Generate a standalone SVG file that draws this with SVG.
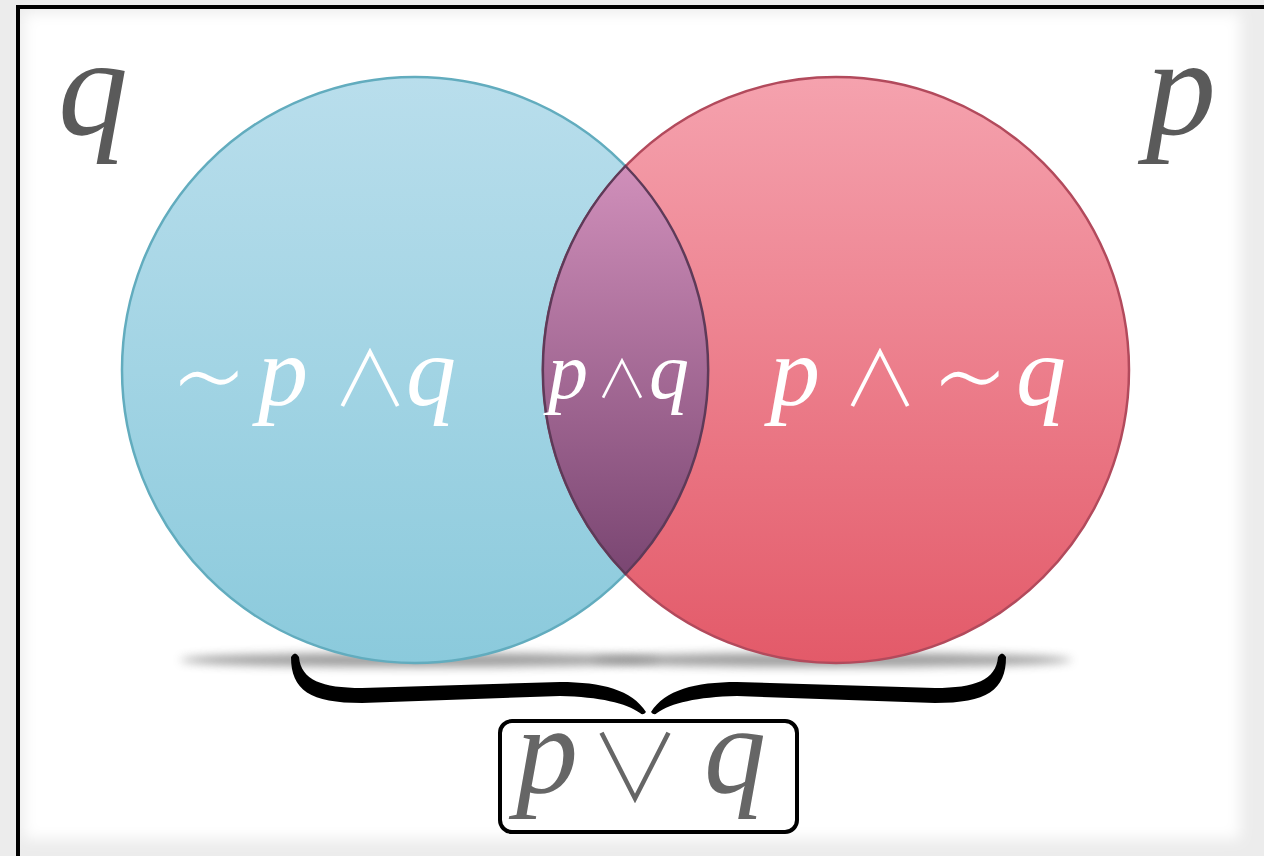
<svg xmlns="http://www.w3.org/2000/svg" width="1264" height="856" viewBox="0 0 1264 856">
<style>
.lbl{font-family:"Liberation Serif","DejaVu Serif",serif;font-style:italic}
.sym{font-family:"Noto Sans CJK JP","DejaVu Sans",sans-serif;font-style:normal;font-weight:300;text-anchor:middle}
.white{fill:#ffffff}
.gray{fill:#5a5a5a}
.gray2{fill:#666666}
</style>
<defs>
<linearGradient id="gBlue" x1="0" y1="0" x2="0" y2="1">
<stop offset="0" stop-color="#b9deec"/>
<stop offset="1" stop-color="#8bcadc"/>
</linearGradient>
<linearGradient id="gRed" x1="0" y1="0" x2="0" y2="1">
<stop offset="0" stop-color="#f5a2ae"/>
<stop offset="1" stop-color="#e35a69"/>
</linearGradient>
<linearGradient id="gLens" x1="0" y1="0" x2="0" y2="1">
<stop offset="0" stop-color="#d08fba"/>
<stop offset="1" stop-color="#7a4672"/>
</linearGradient>
<filter id="blur8" x="-5%" y="-5%" width="110%" height="110%"><feGaussianBlur stdDeviation="7"/></filter>
<filter id="blurS" x="-20%" y="-200%" width="140%" height="500%"><feGaussianBlur stdDeviation="5"/></filter>
</defs>
<g id="background">
<rect x="0" y="0" width="1264" height="856" fill="#ececec"/>
<rect x="24" y="13" width="1216" height="826" fill="#ffffff" filter="url(#blur8)"/>
<line x1="16" y1="7" x2="1264" y2="7" stroke="#000" stroke-width="4"/>
<line x1="18" y1="5" x2="18" y2="856" stroke="#000" stroke-width="4"/>
</g>
<g id="shadows">
<ellipse cx="420" cy="660" rx="240" ry="7" fill="#7a7a7a" opacity="0.75" filter="url(#blurS)"/>
<ellipse cx="832" cy="660" rx="240" ry="7" fill="#7a7a7a" opacity="0.75" filter="url(#blurS)"/>
</g>
<g id="circle-q">
<circle cx="415" cy="370" r="293" fill="url(#gBlue)" stroke="#62acbe" stroke-width="2.5"/>
</g>
<g id="circle-p">
<circle cx="836" cy="370" r="293" fill="url(#gRed)" stroke="#b24a5c" stroke-width="2.5"/>
</g>
<g id="intersection">
<path d="M625.5,166 A293,293 0 0 0 625.5,574 A293,293 0 0 0 625.5,166 Z" fill="url(#gLens)" stroke="#5e3a58" stroke-width="2.5"/>
</g>
<g id="label-q">
<text class="lbl gray" x="58" y="134" font-size="140">q</text>
</g>
<g id="label-p">
<text class="lbl gray" x="1146" y="134" font-size="140">p</text>
</g>
<g id="label-notp-and-q">
<text class="sym white" x="209" y="420" font-size="120">∼</text>
<text class="lbl white" x="258" y="405" font-size="100">p</text>
<text class="sym white" x="370" y="406" font-size="76">∧</text>
<text class="lbl white" x="406" y="405" font-size="100">q</text>
</g>
<g id="label-p-and-q">
<text class="lbl white" x="548" y="398" font-size="80">p</text>
<text class="sym white" x="622" y="398" font-size="52">∧</text>
<text class="lbl white" x="649" y="398" font-size="80">q</text>
</g>
<g id="label-p-and-notq">
<text class="lbl white" x="770" y="405" font-size="100">p</text>
<text class="sym white" x="880" y="406" font-size="76">∧</text>
<text class="sym white" x="970" y="420" font-size="120">∼</text>
<text class="lbl white" x="1016" y="405" font-size="100">q</text>
</g>
<g id="connectors">
<path d="M291,657 C291,690 310,703 362,703 L560,696 C600,697 626,703 640,713 Q643,716 646,712 C632,690 602,682 560,682 L362,688 C322,688 301,680 299,657 Q295,650 291,657 Z" fill="#000"/>
<path d="M1006,657 C1006,690 987,703 935,703 L737,696 C697,697 671,703 657,713 Q654,716 651,712 C665,690 695,682 737,682 L935,688 C975,688 996,680 998,657 Q1002,650 1006,657 Z" fill="#000"/>
</g>
<g id="result">
<rect x="500" y="721" width="297" height="111" rx="12" fill="#ffffff" stroke="#000" stroke-width="4"/>
<text class="lbl gray2" x="516" y="792" font-size="124">p</text>
<text class="sym gray2" x="635" y="801" font-size="92">∨</text>
<text class="lbl gray2" x="704" y="792" font-size="124">q</text>
</g>
</svg>
